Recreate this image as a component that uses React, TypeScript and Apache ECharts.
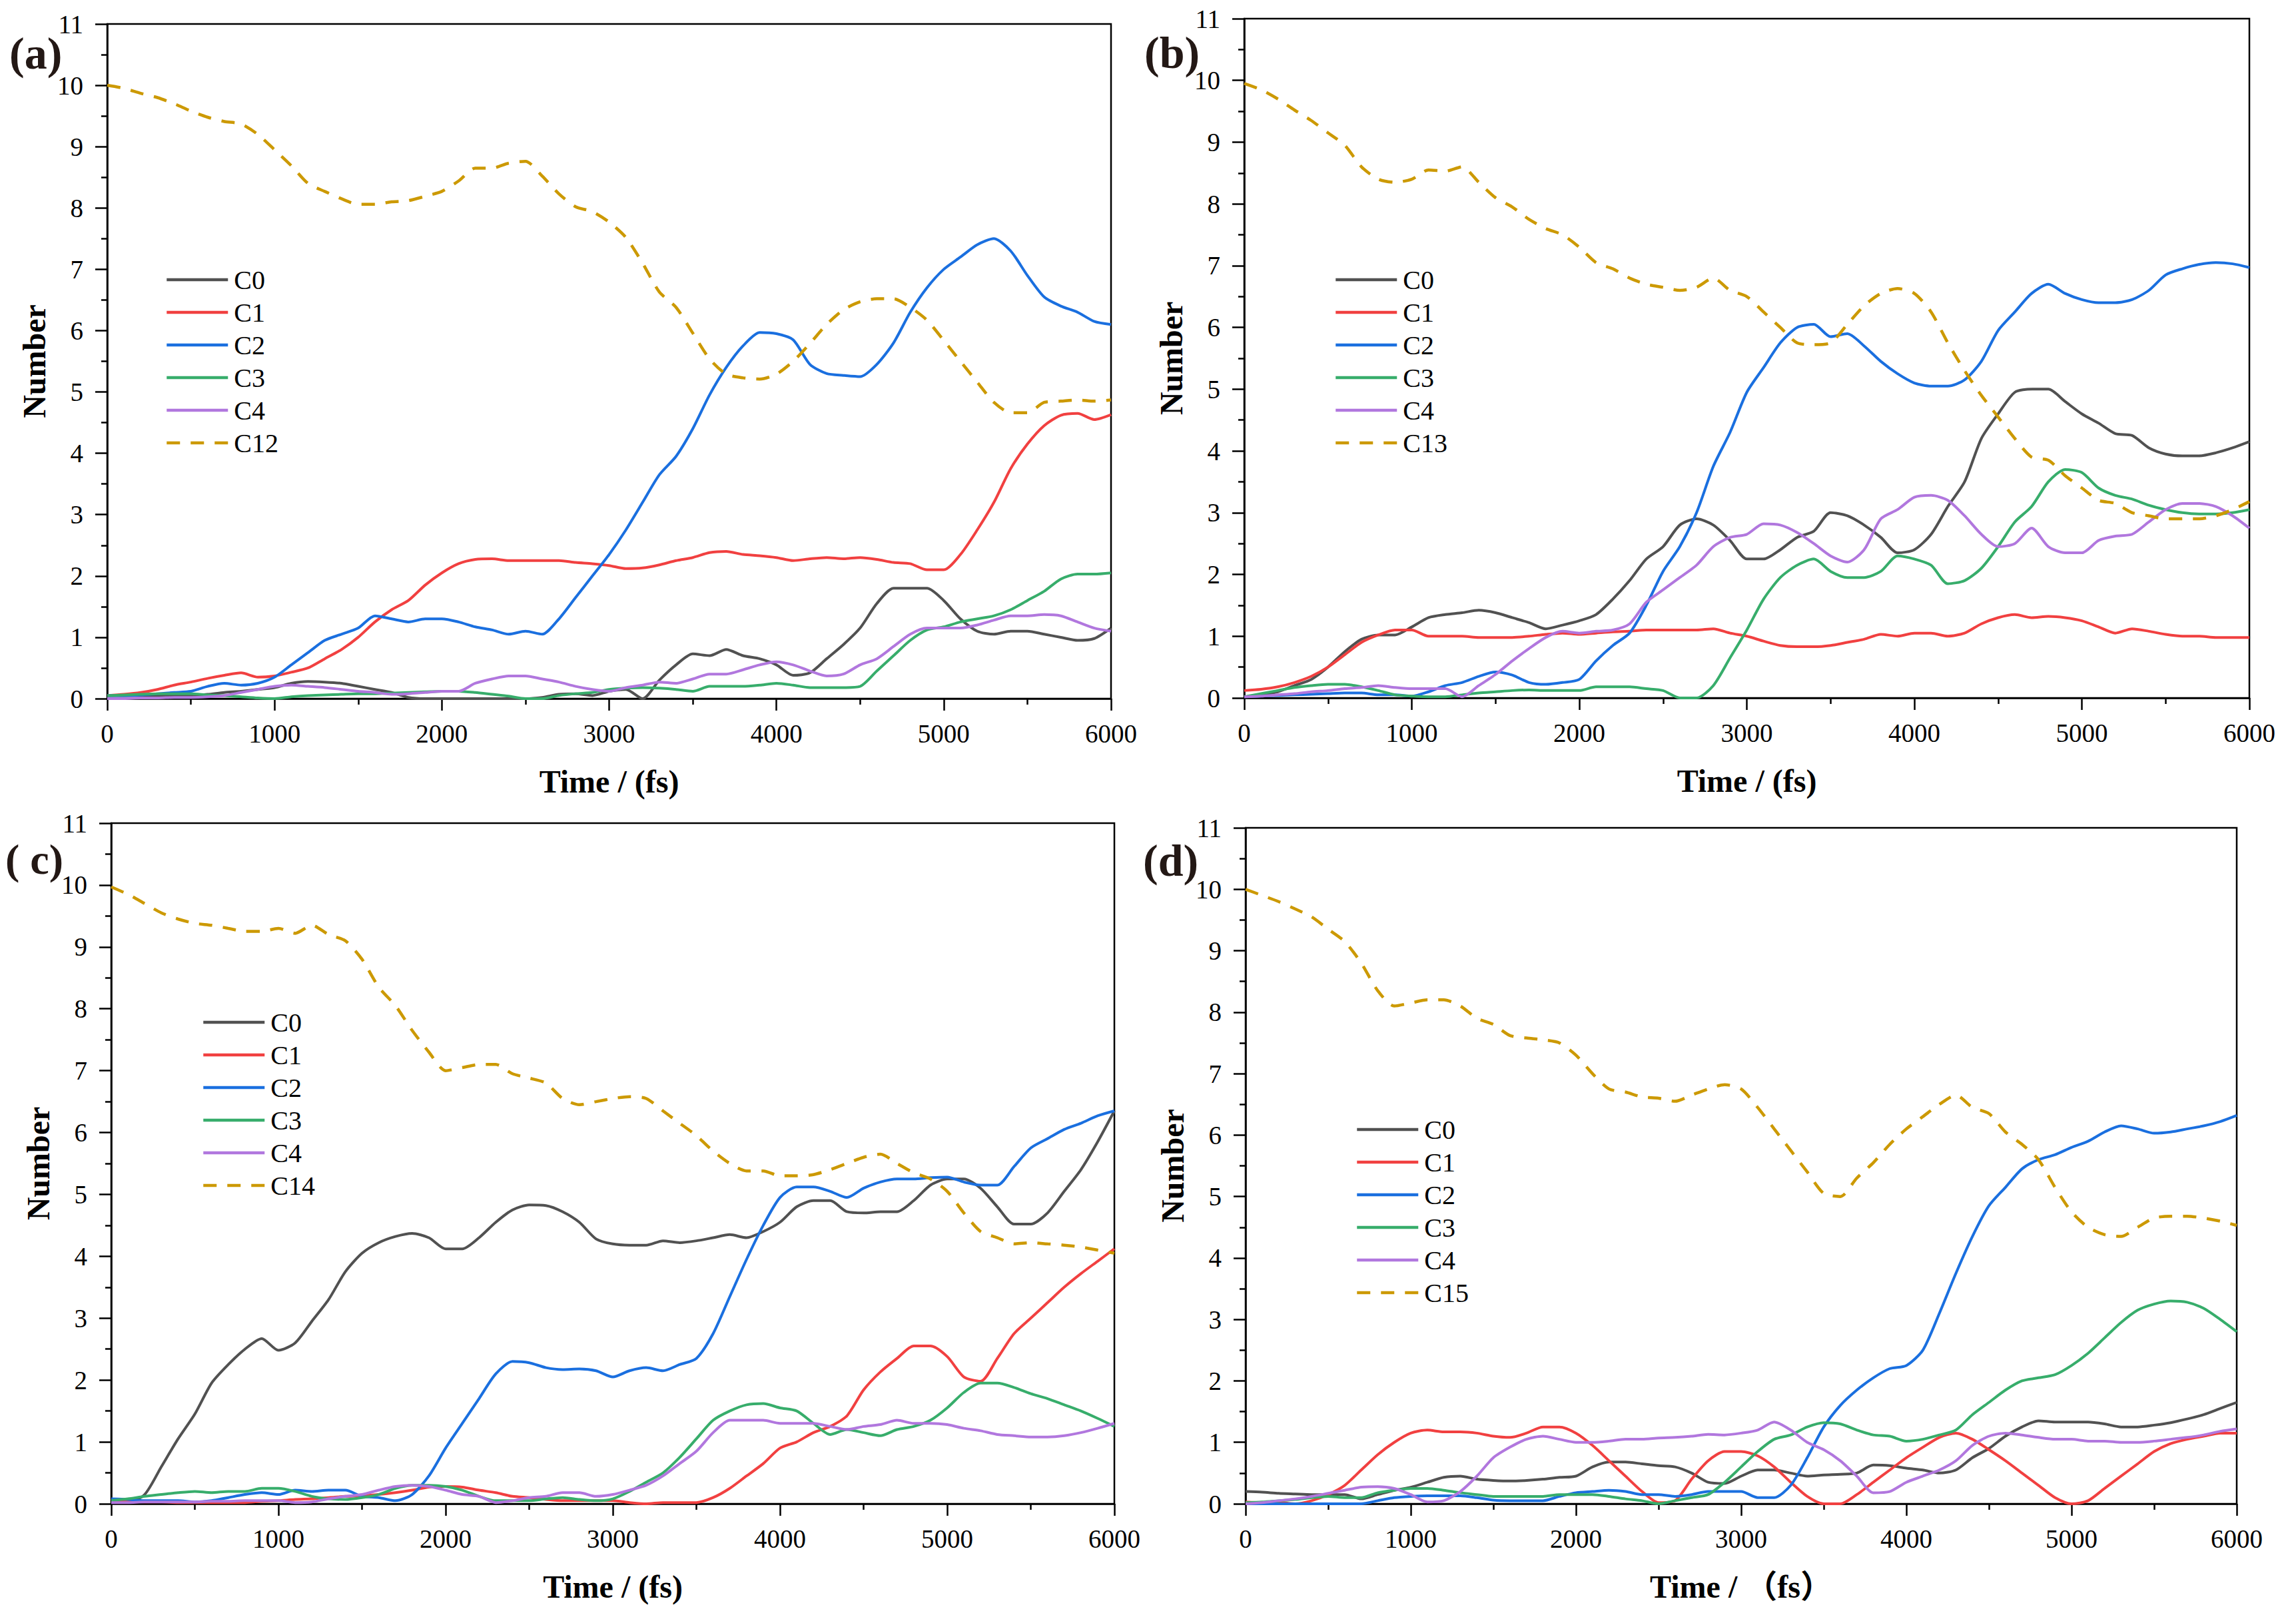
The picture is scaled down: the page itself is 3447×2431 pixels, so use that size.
import React, { useEffect, useRef } from "react";
import * as echarts from "echarts";

// Time axis samples (fs), every 100 fs from 0 to 6000
const TIME = Array.from({ length: 61 }, (_, i) => i * 100);

const X_TICKS = [0, 1000, 2000, 3000, 4000, 5000, 6000];
const Y_MAX = 11;

const SPECIES = ["C0", "C1", "C2", "C3", "C4"];
const PARENTS = ["C12", "C13", "C14", "C15"];
const PANEL_LABELS = ["(a)", "(b)", "( c)", "(d)"];
const X_NAMES = ["Time / (fs)", "Time / (fs)", "Time / (fs)", "Time / （fs）"];

// ---- panel (a) ----
const a_C0 = [0.05,0.05,0.05,0.05,0.05,0.05,0.07,0.1,0.12,0.15,
  0.18,0.25,0.28,0.27,0.25,0.2,0.15,0.1,0.02,0,
  0,0,0,0,0,0,0.02,0.07,0.08,0.05,
  0.12,0.15,0.0,0.3,0.55,0.73,0.7,0.8,0.7,0.65,
  0.55,0.38,0.42,0.65,0.88,1.15,1.55,1.8,1.8,1.8,
  1.6,1.3,1.1,1.05,1.1,1.1,1.05,1.0,0.95,0.98,1.15];
const a_C1 = [0.05,0.07,0.1,0.15,0.22,0.27,0.33,0.38,0.42,0.35,
  0.37,0.43,0.5,0.65,0.8,1.0,1.25,1.45,1.6,1.85,
  2.05,2.2,2.27,2.28,2.25,2.25,2.25,2.25,2.22,2.2,
  2.17,2.12,2.13,2.18,2.25,2.3,2.38,2.4,2.35,2.33,
  2.3,2.25,2.28,2.3,2.28,2.3,2.27,2.22,2.2,2.1,
  2.1,2.35,2.75,3.2,3.75,4.15,4.45,4.62,4.65,4.55,4.63];
const a_C2 = [0.05,0.05,0.06,0.08,0.1,0.12,0.2,0.25,0.22,0.25,
  0.35,0.55,0.75,0.95,1.05,1.15,1.35,1.3,1.25,1.3,
  1.3,1.25,1.17,1.12,1.05,1.1,1.05,1.3,1.65,2.0,
  2.35,2.75,3.2,3.65,3.95,4.4,4.95,5.4,5.75,5.97,
  5.95,5.85,5.45,5.3,5.27,5.25,5.45,5.8,6.3,6.7,
  7.0,7.2,7.4,7.5,7.3,6.9,6.55,6.4,6.3,6.15,6.1];
const a_C3 = [0.05,0.06,0.07,0.08,0.08,0.08,0.06,0.05,0.03,0.01,
  0.0,0.03,0.05,0.06,0.07,0.08,0.08,0.09,0.1,0.11,
  0.12,0.12,0.1,0.07,0.04,0.0,0.0,0.05,0.08,0.1,
  0.15,0.17,0.18,0.17,0.15,0.12,0.2,0.2,0.2,0.22,
  0.25,0.22,0.18,0.18,0.18,0.2,0.45,0.7,0.95,1.12,
  1.17,1.25,1.3,1.35,1.45,1.6,1.75,1.95,2.03,2.03,2.05];
const a_C4 = [0.0,0.0,0.01,0.01,0.02,0.02,0.03,0.05,0.1,0.15,
  0.2,0.22,0.2,0.18,0.15,0.12,0.1,0.07,0.08,0.1,
  0.12,0.12,0.25,0.32,0.37,0.37,0.32,0.27,0.2,0.15,
  0.12,0.18,0.22,0.27,0.25,0.32,0.4,0.4,0.47,0.55,
  0.6,0.55,0.45,0.37,0.4,0.55,0.65,0.85,1.05,1.15,
  1.15,1.15,1.2,1.28,1.35,1.35,1.37,1.35,1.25,1.15,1.1];
const a_C12 = [10.0,9.95,9.87,9.8,9.7,9.58,9.48,9.41,9.37,9.2,
  8.95,8.69,8.4,8.27,8.15,8.06,8.06,8.1,8.12,8.19,
  8.27,8.44,8.65,8.65,8.73,8.76,8.52,8.23,8.02,7.94,
  7.77,7.52,7.1,6.63,6.38,5.96,5.54,5.29,5.23,5.21,
  5.29,5.5,5.79,6.1,6.34,6.47,6.52,6.52,6.38,6.17,
  5.84,5.5,5.16,4.83,4.66,4.66,4.83,4.85,4.87,4.85,4.87];

// ---- panel (b) ----
const b_C0 = [0.02,0.05,0.1,0.2,0.3,0.5,0.75,0.95,1.02,1.02,
  1.15,1.3,1.35,1.38,1.42,1.38,1.3,1.22,1.12,1.18,
  1.25,1.35,1.6,1.9,2.25,2.45,2.8,2.9,2.8,2.55,
  2.25,2.25,2.4,2.6,2.7,3.0,2.95,2.8,2.6,2.35,
  2.4,2.65,3.1,3.5,4.2,4.6,4.95,5.0,5.0,4.8,
  4.6,4.45,4.28,4.25,4.05,3.95,3.92,3.92,3.97,4.05,4.15];
const b_C1 = [0.12,0.14,0.18,0.25,0.35,0.5,0.7,0.9,1.02,1.1,
  1.1,1.0,1.0,1.0,0.98,0.98,0.98,1.0,1.03,1.05,
  1.03,1.05,1.07,1.08,1.1,1.1,1.1,1.1,1.12,1.05,
  1.0,0.92,0.85,0.83,0.83,0.85,0.9,0.95,1.03,1.0,
  1.05,1.05,1.0,1.05,1.2,1.3,1.35,1.3,1.32,1.3,
  1.25,1.15,1.05,1.12,1.08,1.03,1.0,1.0,0.98,0.98,0.98];
const b_C2 = [0.02,0.03,0.04,0.05,0.06,0.07,0.08,0.08,0.05,0.05,
  0.03,0.1,0.2,0.25,0.35,0.42,0.37,0.25,0.22,0.25,
  0.3,0.6,0.85,1.05,1.5,2.05,2.45,3.0,3.75,4.3,
  4.95,5.35,5.75,6.0,6.05,5.85,5.9,5.7,5.45,5.25,
  5.1,5.05,5.05,5.15,5.45,5.95,6.25,6.55,6.7,6.55,
  6.45,6.4,6.4,6.45,6.6,6.85,6.95,7.02,7.05,7.03,6.97];
const b_C3 = [0.02,0.07,0.12,0.17,0.2,0.22,0.22,0.18,0.12,0.05,
  0.03,0.02,0.02,0.05,0.08,0.1,0.12,0.13,0.12,0.12,
  0.12,0.18,0.18,0.18,0.15,0.12,0.0,0.0,0.2,0.65,
  1.1,1.6,1.95,2.15,2.25,2.05,1.95,1.95,2.05,2.3,
  2.25,2.15,1.85,1.9,2.1,2.45,2.85,3.1,3.5,3.7,
  3.65,3.4,3.28,3.22,3.12,3.05,3.0,2.98,2.98,3.0,3.05];
const b_C4 = [0.02,0.03,0.05,0.07,0.1,0.12,0.15,0.17,0.2,0.17,
  0.15,0.15,0.15,0.02,0.2,0.38,0.6,0.8,0.98,1.08,
  1.05,1.08,1.1,1.2,1.55,1.75,1.95,2.15,2.45,2.6,
  2.65,2.82,2.8,2.68,2.5,2.3,2.2,2.4,2.9,3.05,
  3.25,3.28,3.2,2.95,2.65,2.45,2.5,2.75,2.45,2.35,
  2.35,2.55,2.62,2.65,2.85,3.05,3.15,3.15,3.1,2.95,2.75];
const b_C13 = [9.95,9.85,9.7,9.52,9.35,9.15,8.95,8.6,8.4,8.35,
  8.4,8.55,8.53,8.6,8.35,8.1,7.95,7.75,7.6,7.5,
  7.3,7.05,6.95,6.8,6.7,6.65,6.6,6.65,6.8,6.6,
  6.5,6.25,6.0,5.75,5.72,5.75,6.05,6.35,6.55,6.63,
  6.55,6.25,5.75,5.3,4.9,4.55,4.2,3.9,3.85,3.6,
  3.4,3.2,3.15,3.0,2.95,2.9,2.9,2.9,2.95,3.05,3.18];

// ---- panel (c) ----
const c_C0 = [0.08,0.03,0.15,0.6,1.05,1.45,1.95,2.25,2.5,2.67,
  2.48,2.6,2.95,3.3,3.75,4.05,4.22,4.32,4.37,4.3,
  4.12,4.12,4.3,4.55,4.75,4.83,4.82,4.72,4.55,4.28,
  4.2,4.18,4.18,4.25,4.22,4.25,4.3,4.35,4.3,4.4,
  4.55,4.8,4.9,4.9,4.72,4.7,4.72,4.72,4.9,5.15,
  5.25,5.25,5.1,4.8,4.52,4.52,4.7,5.05,5.4,5.85,6.35];
const c_C1 = [0.05,0.04,0.03,0.03,0.02,0.02,0.02,0.02,0.02,0.04,
  0.05,0.07,0.08,0.1,0.12,0.13,0.15,0.18,0.22,0.27,
  0.28,0.27,0.22,0.18,0.12,0.1,0.07,0.05,0.05,0.05,
  0.05,0.02,0.0,0.02,0.02,0.02,0.1,0.25,0.45,0.65,
  0.9,1.0,1.15,1.25,1.42,1.84,2.13,2.35,2.55,2.55,
  2.38,2.05,1.98,2.35,2.75,3.0,3.25,3.5,3.72,3.92,4.12];
const c_C2 = [0.08,0.07,0.05,0.05,0.05,0.03,0.05,0.1,0.15,0.18,
  0.15,0.22,0.2,0.22,0.22,0.12,0.1,0.05,0.15,0.45,
  0.9,1.3,1.7,2.1,2.3,2.28,2.2,2.17,2.18,2.15,
  2.05,2.15,2.2,2.15,2.25,2.35,2.75,3.35,3.95,4.5,
  4.95,5.12,5.12,5.05,4.95,5.1,5.2,5.25,5.25,5.27,
  5.28,5.2,5.15,5.15,5.45,5.75,5.9,6.05,6.15,6.27,6.35];
const c_C3 = [0.05,0.08,0.12,0.15,0.18,0.2,0.18,0.2,0.2,0.25,
  0.25,0.2,0.12,0.08,0.07,0.1,0.15,0.25,0.3,0.3,
  0.28,0.22,0.12,0.05,0.05,0.05,0.08,0.1,0.07,0.05,
  0.08,0.2,0.35,0.5,0.75,1.05,1.35,1.5,1.6,1.62,
  1.55,1.5,1.3,1.12,1.2,1.15,1.1,1.2,1.25,1.35,
  1.55,1.8,1.95,1.95,1.88,1.78,1.7,1.6,1.5,1.38,1.25];
const c_C4 = [0.02,0.02,0.03,0.03,0.03,0.03,0.04,0.04,0.05,0.05,
  0.05,0.02,0.03,0.08,0.12,0.15,0.22,0.28,0.3,0.28,
  0.22,0.15,0.12,0.02,0.05,0.1,0.12,0.18,0.18,0.12,
  0.15,0.22,0.3,0.45,0.65,0.85,1.15,1.35,1.35,1.35,
  1.3,1.3,1.3,1.25,1.2,1.25,1.28,1.35,1.3,1.3,
  1.28,1.22,1.18,1.12,1.1,1.08,1.08,1.1,1.15,1.22,1.3];
const c_C14 = [9.97,9.85,9.7,9.55,9.45,9.38,9.35,9.3,9.25,9.25,
  9.3,9.22,9.35,9.2,9.1,8.8,8.35,8.05,7.65,7.3,
  7.0,7.05,7.1,7.1,6.95,6.88,6.8,6.55,6.45,6.5,
  6.55,6.58,6.55,6.35,6.15,5.95,5.7,5.5,5.38,5.38,
  5.3,5.3,5.32,5.4,5.5,5.6,5.65,5.5,5.35,5.25,
  5.05,4.7,4.4,4.3,4.2,4.22,4.2,4.18,4.15,4.1,4.05];

// ---- panel (d) ----
const d_C0 = [0.2,0.19,0.17,0.16,0.15,0.15,0.15,0.08,0.15,0.22,
  0.27,0.35,0.43,0.45,0.4,0.38,0.37,0.38,0.4,0.43,
  0.45,0.6,0.68,0.68,0.65,0.62,0.6,0.5,0.35,0.33,
  0.45,0.55,0.55,0.5,0.45,0.47,0.48,0.5,0.63,0.62,
  0.58,0.55,0.5,0.55,0.75,0.9,1.1,1.25,1.35,1.33,
  1.33,1.33,1.3,1.25,1.25,1.28,1.32,1.38,1.45,1.55,1.65];
const d_C1 = [0.03,0.02,0.02,0.0,0.05,0.15,0.3,0.55,0.8,1.0,
  1.15,1.2,1.17,1.17,1.15,1.1,1.08,1.15,1.25,1.25,
  1.15,0.95,0.7,0.45,0.2,0.02,0.05,0.4,0.7,0.85,
  0.85,0.78,0.6,0.35,0.12,0.0,0.0,0.15,0.35,0.55,
  0.75,0.92,1.08,1.15,1.05,0.88,0.7,0.5,0.3,0.1,
  0.0,0.05,0.25,0.45,0.65,0.85,0.98,1.05,1.1,1.15,1.15];
const d_C2 = [0.0,0.0,0.0,0.0,0.0,0.0,0.0,0.0,0.05,0.1,
  0.12,0.13,0.13,0.13,0.1,0.06,0.05,0.05,0.05,0.12,
  0.18,0.2,0.22,0.2,0.15,0.15,0.12,0.15,0.2,0.2,
  0.2,0.1,0.1,0.3,0.75,1.25,1.6,1.85,2.05,2.2,
  2.25,2.5,3.1,3.75,4.35,4.85,5.15,5.45,5.6,5.68,
  5.8,5.9,6.05,6.15,6.1,6.03,6.05,6.1,6.15,6.22,6.32];
const d_C3 = [0.02,0.03,0.05,0.07,0.1,0.12,0.1,0.1,0.18,0.22,
  0.25,0.25,0.22,0.18,0.15,0.12,0.12,0.12,0.12,0.15,
  0.15,0.15,0.12,0.08,0.05,0.0,0.05,0.1,0.15,0.35,
  0.6,0.85,1.05,1.12,1.25,1.32,1.3,1.2,1.12,1.1,
  1.02,1.05,1.12,1.2,1.45,1.65,1.85,2.0,2.05,2.1,
  2.25,2.45,2.7,2.95,3.15,3.25,3.3,3.28,3.18,3.0,2.8];
const d_C4 = [0.0,0.02,0.05,0.08,0.12,0.17,0.22,0.27,0.28,0.25,
  0.15,0.03,0.05,0.2,0.45,0.75,0.92,1.05,1.1,1.05,
  1.0,1.0,1.02,1.05,1.05,1.07,1.08,1.1,1.13,1.12,
  1.15,1.2,1.33,1.2,1.0,0.88,0.7,0.45,0.18,0.2,
  0.35,0.45,0.55,0.7,0.95,1.1,1.15,1.12,1.08,1.05,
  1.05,1.02,1.02,1.0,1.0,1.02,1.05,1.08,1.12,1.18,1.22];
const d_C15 = [10.0,9.9,9.8,9.68,9.55,9.35,9.15,8.8,8.35,8.1,
  8.15,8.2,8.2,8.1,7.9,7.8,7.62,7.58,7.55,7.5,
  7.3,7.0,6.75,6.7,6.62,6.6,6.55,6.65,6.75,6.82,
  6.75,6.45,6.1,5.75,5.4,5.05,5.0,5.3,5.55,5.85,
  6.1,6.3,6.5,6.65,6.45,6.35,6.05,5.85,5.6,5.15,
  4.75,4.5,4.38,4.35,4.5,4.65,4.68,4.68,4.65,4.6,4.53];

const PANEL_DATA = [
  [a_C0, a_C1, a_C2, a_C3, a_C4, a_C12],
  [b_C0, b_C1, b_C2, b_C3, b_C4, b_C13],
  [c_C0, c_C1, c_C2, c_C3, c_C4, c_C14],
  [d_C0, d_C1, d_C2, d_C3, d_C4, d_C15],
];

const COLORS = ["#515151", "#F14040", "#1A6FDF", "#37AD6B", "#B177DE", "#CC9900"];

// layout (px)
const GRIDS = [
  { left: 161, top: 36, width: 1507, height: 1013 },
  { left: 1868, top: 28, width: 1509, height: 1020 },
  { left: 167, top: 1236, width: 1506, height: 1022 },
  { left: 1870, top: 1243, width: 1488, height: 1015 },
];
const LEGEND_POS = [
  { left: 248, top: 400 },
  { left: 2003, top: 400 },
  { left: 303, top: 1515 },
  { left: 2035, top: 1676 },
];
const LABEL_POS = [
  { x: 14, y: 80 },
  { x: 1718, y: 79 },
  { x: 8, y: 1290 },
  { x: 1716, y: 1292 },
];

const FONT = "'Liberation Serif', 'Times New Roman', serif";
const FONT_CJK = "'Liberation Serif', 'Noto Sans CJK SC', serif";

export default function App() {
  const ref = useRef<HTMLDivElement>(null);
  useEffect(() => {
    if (!ref.current) return;
    const chart = echarts.init(ref.current, null, { renderer: "svg" });

    const axisLine = { show: true, onZero: false, lineStyle: { color: "#000", width: 2.5 } };
    const grid = GRIDS.map((g) => ({
      ...g,
      show: true,
      borderColor: "#000",
      borderWidth: 2.5,
      backgroundColor: "transparent",
      containLabel: false,
    }));

    const xAxis = GRIDS.map((_, i) => ({
      type: "value",
      gridIndex: i,
      min: X_TICKS[0],
      max: X_TICKS[X_TICKS.length - 1],
      interval: 1000,
      name: X_NAMES[i],
      nameLocation: "middle",
      nameGap: 100,
      nameTextStyle: { fontFamily: i === 3 ? FONT_CJK : FONT, fontSize: 48, fontWeight: "bold", color: "#000" },
      axisLine,
      axisTick: { show: true, inside: false, length: 18, lineStyle: { color: "#000", width: 2.5 } },
      minorTick: { show: true, splitNumber: 2, length: 9, lineStyle: { color: "#000", width: 2.5 } },
      splitLine: { show: false },
      axisLabel: {
        fontFamily: FONT,
        fontSize: 39,
        color: "#000",
        margin: 33,
        formatter: (v: number) => String(v),
      },
    }));

    const yAxis = GRIDS.map((_, i) => ({
      type: "value",
      gridIndex: i,
      min: 0,
      max: Y_MAX,
      interval: 1,
      name: "Number",
      nameLocation: "middle",
      nameGap: 86,
      nameTextStyle: { fontFamily: FONT, fontSize: 48, fontWeight: "bold", color: "#000" },
      axisLine,
      axisTick: { show: true, inside: false, length: 18, lineStyle: { color: "#000", width: 2.5 } },
      minorTick: { show: true, splitNumber: 2, length: 9, lineStyle: { color: "#000", width: 2.5 } },
      splitLine: { show: false },
      axisLabel: { fontFamily: FONT, fontSize: 39, color: "#000", margin: 36, formatter: (v: number) => String(v) },
    }));

    const series: any[] = [];
    PANEL_DATA.forEach((arrs, p) => {
      const names = [...SPECIES, PARENTS[p]];
      arrs.forEach((vals, k) => {
        const dashed = k === 5;
        series.push({
          type: "line",
          name: names[k],
          xAxisIndex: p,
          yAxisIndex: p,
          data: TIME.map((t, i) => [t, vals[i]]),
          symbol: "none",
          showSymbol: false,
          smooth: 0.25,
          color: COLORS[k],
          lineStyle: {
            color: COLORS[k],
            width: dashed ? 4.5 : 4,
            type: dashed ? [20, 16] : "solid",
          },
          z: 2 + k,
          silent: true,
        });
      });
    });

    const legend = LEGEND_POS.map((pos, p) => ({
      show: true,
      orient: "vertical",
      left: pos.left,
      top: pos.top,
      padding: 0,
      itemWidth: 92,
      itemHeight: 20,
      itemGap: 9,
      selectedMode: false,
      itemStyle: { opacity: 0, borderWidth: 0 },
      lineStyle: { width: 4.5 },
      data: [...SPECIES, PARENTS[p]],
      textStyle: { fontFamily: FONT, fontSize: 40, lineHeight: 38, color: "#000", padding: [0, 0, 0, 4] },
    }));

    const graphic = LABEL_POS.map((pos, i) => ({
      type: "text",
      x: pos.x,
      y: pos.y,
      silent: true,
      style: {
        text: PANEL_LABELS[i],
        fontFamily: FONT,
        fontSize: i === 2 ? 64 : 68,
        lineHeight: 50,
        fontWeight: "bold",
        fill: "#231815",
        textAlign: "left",
        textVerticalAlign: "middle",
        verticalAlign: "middle",
      },
    }));

    chart.setOption({
      animation: false,
      backgroundColor: "#fff",
      grid,
      xAxis,
      yAxis,
      legend,
      series,
      graphic,
    });
    return () => chart.dispose();
  }, []);

  return (
    <div
      ref={ref}
      style={{ position: "absolute", left: 0, top: 0, width: 3447, height: 2431, background: "#fff" }}
    />
  );
}
